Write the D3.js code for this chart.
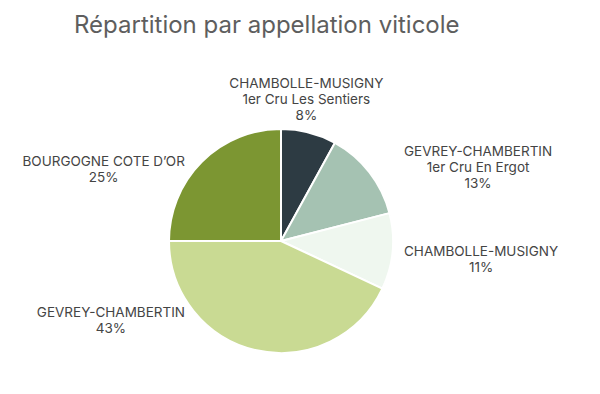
<!DOCTYPE html>
<html>
<head>
<meta charset="utf-8">
<script src="https://cdn.jsdelivr.net/npm/d3@7"></script>
<style>
  body { margin: 0; background: #fff; }
  text { font-family: Inter, "Noto Sans", sans-serif; }
</style>
</head>
<body>
<div id="chart"></div>
<script>
// Data
var categories = [
  ['CHAMBOLLE-MUSIGNY', '1er Cru Les Sentiers'],
  ['GEVREY-CHAMBERTIN', '1er Cru En Ergot'],
  ['CHAMBOLLE-MUSIGNY'],
  ['GEVREY-CHAMBERTIN'],
  ['BOURGOGNE COTE D\u2019OR']
];
var values = [ 8, 13, 11, 43, 25 ];
var colors = [ '#2d3b43', '#a5c2b2', '#eff7ef', '#c9da93', '#7c9632' ];

var chart_width  = 600;
var chart_height = 394;
var cx = 281, cy = 241;
var radius = 112;
var label_radius = 130;
var line_h = 16;

var total = d3.sum(values);
var fmt = d3.format('.0%');

var svg = d3.select('#chart')
    .append('svg')
    .attr('width', chart_width)
    .attr('height', chart_height);

// title
svg.append('text')
    .attr('x', 74)
    .attr('y', 33)
    .attr('font-size', 24)
    .attr('fill', '#5e5e5e')
    .text('Répartition par appellation viticole');

// pie layout
var pie = d3.pie().sort(null);
var arc = d3.arc().innerRadius(0).outerRadius(radius);

var g = svg.append('g')
    .attr('transform', 'translate(' + cx + ',' + cy + ')');

var slices = pie(values);

g.selectAll('path')
    .data(slices)
    .enter()
    .append('path')
    .attr('d', arc)
    .attr('fill', function(d, i){ return colors[i]; })
    .attr('stroke', '#fff')
    .attr('stroke-width', 2)
    .attr('stroke-linejoin', 'round');

// labels: above the pie for slices near the top, otherwise beside it
var labels = g.selectAll('g.label')
    .data(slices)
    .enter()
    .append('g')
    .attr('class', 'label');

labels.each(function(d, i){
    var lines = categories[i].concat([fmt(d.value / total)]);
    var t = d3.select(this).append('text')
        .attr('font-size', 13.5)
        .attr('fill', '#444')
        .attr('text-anchor', 'middle');
    lines.forEach(function(s, k){
        t.append('tspan').attr('x', 0).attr('dy', k ? line_h : 0).text(s);
    });
    var w = t.node().getBBox().width;
    var h = lines.length * line_h;
    var a = (d.startAngle + d.endAngle) / 2;
    var s = Math.sin(a), c = Math.cos(a);
    var px = label_radius * s, py = -label_radius * c;
    var x, top;
    if (Math.abs(s) < 0.4 && c > 0) {
        x = px - 7;
        top = py + 8 - h;
    } else if (s >= 0) {
        var yr = py + 6;
        x = 123 + w / 2;
        top = yr - h / 2;
    } else {
        var yl = Math.min(py + 20, 79);
        x = -96 - w / 2;
        top = yl - h / 2;
    }
    t.attr('transform', 'translate(' + x + ',' + (top + 13) + ')');
});
</script>
</body>
</html>
